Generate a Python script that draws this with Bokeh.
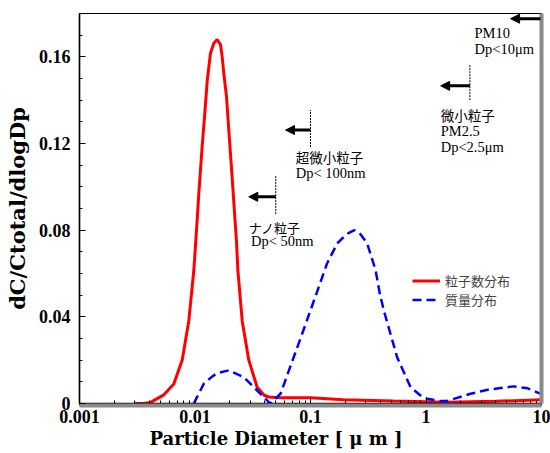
from bokeh.plotting import figure
from bokeh.models import (FixedTicker, CustomJSTickFormatter, Label, Arrow, NormalHead,
                          Legend, LegendItem, Range1d, LogAxis, LinearAxis, Title)
from bokeh.embed import file_html
from bokeh.resources import INLINE

# ---- data ----
number_dp = [0.0030, 0.00355, 0.00412, 0.00537, 0.00655, 0.00774, 0.00883, 0.00977, 0.01045,
             0.01079, 0.01153, 0.01216, 0.01276, 0.01362, 0.01455, 0.01556, 0.01664, 0.01719,
             0.01774, 0.01874, 0.01963, 0.02056, 0.02143, 0.02218, 0.02286, 0.0235, 0.02564,
             0.02924, 0.03451, 0.0398, 0.04355, 0.055, 0.1, 0.193, 0.524, 1.51, 3.98, 10.0]
number_val = [0.0, 0.0, 0.0005, 0.004, 0.009, 0.020, 0.038, 0.0615, 0.085,
              0.097, 0.1185, 0.134, 0.149, 0.1617, 0.1663, 0.168, 0.1656, 0.160,
              0.1525, 0.1416, 0.126, 0.1108, 0.097, 0.085, 0.075, 0.0615, 0.038,
              0.020, 0.0075, 0.0038, 0.003, 0.0026, 0.0026, 0.0017, 0.0011, 0.0006, 0.001, 0.0017]

mass_dp = [0.00977, 0.01191, 0.01413, 0.01556, 0.01963, 0.02642, 0.03451, 0.04355, 0.0451,
           0.055, 0.0716, 0.0847, 0.1, 0.118, 0.139, 0.170, 0.194, 0.215, 0.240, 0.271,
           0.310, 0.366, 0.398, 0.431, 0.562, 0.735, 0.897, 1.02, 1.34, 1.51, 2.43, 3.55,
           5.75, 7.6, 9.48, 10.0]
mass_val = [0.0, 0.0091, 0.0125, 0.014, 0.0153, 0.0122, 0.006, 0.0006, 0.0,
            0.0045, 0.0214, 0.0322, 0.043, 0.0538, 0.0646, 0.0738, 0.0769, 0.0788, 0.080, 0.0781,
            0.0738, 0.0615, 0.0507, 0.043, 0.0214, 0.0075, 0.0037, 0.0022, 0.0011, 0.0011,
            0.0045, 0.0065, 0.0079, 0.0070, 0.0048, 0.0045]

x_major = [0.001, 0.01, 0.1, 1, 10]
x_minor = [k * 10.0 ** e for e in range(-3, 1) for k in range(2, 10)]
y_major = [0, 0.04, 0.08, 0.12, 0.16]
y_minor = [i / 100 for i in range(0, 19)]

series_labels = ["粒子数分布", "質量分布"]
x_title = "Particle Diameter [ μ m ]"
y_title = "dC/Ctotal/dlogDp"

p = figure(width=550, height=453, x_axis_type="log",
           x_range=Range1d(0.001, 10), y_range=Range1d(0, 0.18),
           output_backend="svg", toolbar_location=None,
           min_border_left=79, min_border_right=9, min_border_top=13, min_border_bottom=50)

p.xgrid.visible = False
p.ygrid.visible = False
p.outline_line_color = "black"
p.outline_line_width = 1.2
p.background_fill_color = "white"
p.border_fill_color = "white"

tick_fmt = CustomJSTickFormatter(code="return String(tick);")
blank_fmt = CustomJSTickFormatter(code="return '';")
SHADOW = "#8a8a8a"
TICK_FONT = "Liberation Serif"

# --- bottom: tick axis (ticks only) ---
xa = p.xaxis[0]
xa.ticker = FixedTicker(ticks=x_major, minor_ticks=x_minor)
xa.formatter = blank_fmt
xa.major_tick_in = 6
xa.major_tick_out = 2
xa.minor_tick_in = 3
xa.minor_tick_out = 0
xa.axis_line_color = "black"
xa.axis_line_width = 1.5
xa.major_tick_line_color = "black"
xa.minor_tick_line_color = "black"
xa.major_label_text_font_size = "1px"
xa.major_label_standoff = 0
xa.axis_label = None

# --- bottom: shadow band ---
xs = LogAxis(ticker=FixedTicker(ticks=[]), axis_line_color=SHADOW, axis_line_width=4,
             major_tick_in=0, major_tick_out=0, minor_tick_in=0, minor_tick_out=0,
             major_label_standoff=0, major_label_text_font_size="1px")
p.add_layout(xs, "below")

# --- bottom: labels axis ---
xl = LogAxis(ticker=FixedTicker(ticks=x_major, minor_ticks=[]), formatter=tick_fmt,
             axis_line_alpha=0, major_tick_line_alpha=0, minor_tick_line_alpha=0,
             major_tick_in=0, major_tick_out=0, minor_tick_in=0, minor_tick_out=0,
             major_label_standoff=4,
             major_label_text_font=TICK_FONT, major_label_text_font_style="bold",
             major_label_text_font_size="18px", major_label_text_color="black")
p.add_layout(xl, "below")

p.add_layout(Title(text=x_title, align="left", offset=70, standoff=0,
                   text_font="DejaVu Serif", text_font_style="bold",
                   text_font_size="18px", text_color="black"), "below")

# --- left axis ---
ya = p.yaxis[0]
ya.ticker = FixedTicker(ticks=y_major, minor_ticks=y_minor)
ya.formatter = tick_fmt
ya.major_tick_in = 6
ya.major_tick_out = 0
ya.minor_tick_in = 3
ya.minor_tick_out = 0
ya.axis_line_color = "black"
ya.axis_line_width = 1.5
ya.major_tick_line_color = "black"
ya.minor_tick_line_color = "black"
ya.major_label_text_font = TICK_FONT
ya.major_label_text_font_style = "bold"
ya.major_label_text_font_size = "18px"
ya.major_label_text_color = "black"
ya.major_label_standoff = 9
ya.axis_label = y_title
ya.axis_label_standoff = 6
ya.axis_label_text_font = "DejaVu Serif"
ya.axis_label_text_font_style = "bold"
ya.axis_label_text_font_size = "21px"
ya.axis_label_text_color = "black"

# --- right: spacer + shadow ---
r_sp = LinearAxis(ticker=FixedTicker(ticks=[]), axis_line_alpha=0,
                  major_tick_in=0, major_tick_out=2, minor_tick_in=0, minor_tick_out=0,
                  major_tick_line_alpha=0, major_label_standoff=0,
                  major_label_text_font_size="1px")
p.add_layout(r_sp, "right")
r_sh = LinearAxis(ticker=FixedTicker(ticks=[]), axis_line_color=SHADOW, axis_line_width=4,
                  major_tick_in=0, major_tick_out=0, minor_tick_in=0, minor_tick_out=0,
                  major_label_standoff=0, major_label_text_font_size="1px")
p.add_layout(r_sh, "right")

r_num = p.line(number_dp, number_val, line_color="#ff0000", line_width=3)
r_mass = p.line(mass_dp, mass_val, line_color="#0000ff", line_width=2.5, line_dash="9 5")

legend = Legend(items=[LegendItem(label=series_labels[0], renderers=[r_num]),
                       LegendItem(label=series_labels[1], renderers=[r_mass])],
                location=(333, 94), padding=0, margin=0, spacing=0,
                glyph_width=28, glyph_height=17, label_standoff=5,
                label_text_font="Noto Sans CJK JP", label_text_font_size="13px",
                label_height=17, border_line_alpha=0, background_fill_alpha=0)
p.add_layout(legend)

# ---- annotations ----
def vline(x, y0, y1):
    p.segment(x0=[x], y0=[y0], x1=[x], y1=[y1], line_color="black", line_width=1, line_dash="2 1")

def arrow(x0, x1, y):
    p.add_layout(Arrow(end=NormalHead(size=9, fill_color="black", line_color="black"),
                       x_start=x0, y_start=y, x_end=x1, y_end=y,
                       line_color="black", line_width=3))

def label(x, y, text, font, size="14px"):
    p.add_layout(Label(x=x, y=y, text=text, text_font=font, text_font_size=size,
                       text_baseline="middle", text_align="left", text_color="black"))

jp = "Noto Sans CJK JP"
serif = "Liberation Serif"

vline(0.05, 0.0874, 0.105)
arrow(0.05, 0.0292, 0.0954)
label(0.0292, 0.0814, "ナノ粒子", jp, "13px")
label(0.0305, 0.0749, "Dp< 50nm", serif, "14.5px")

vline(0.1, 0.1184, 0.1355)
arrow(0.1, 0.0608, 0.1262)
label(0.0745, 0.1138, "超微小粒子", jp, "13.5px")
label(0.0745, 0.1064, "Dp< 100nm", serif, "14.5px")

vline(2.4, 0.140, 0.1563)
arrow(2.4, 1.34, 0.1466)
label(1.34, 0.1332, "微小粒子", jp, "13.5px")
label(1.34, 0.1258, "PM2.5", serif, "14.5px")
label(1.34, 0.1184, "Dp<2.5μm", serif, "14.5px")

arrow(9.8, 5.4, 0.1776)
label(2.63, 0.1711, "PM10", serif, "14.5px")
label(2.63, 0.1637, "Dp<10μm", serif, "14.5px")

open("out.html", "w").write(file_html(p, INLINE))
